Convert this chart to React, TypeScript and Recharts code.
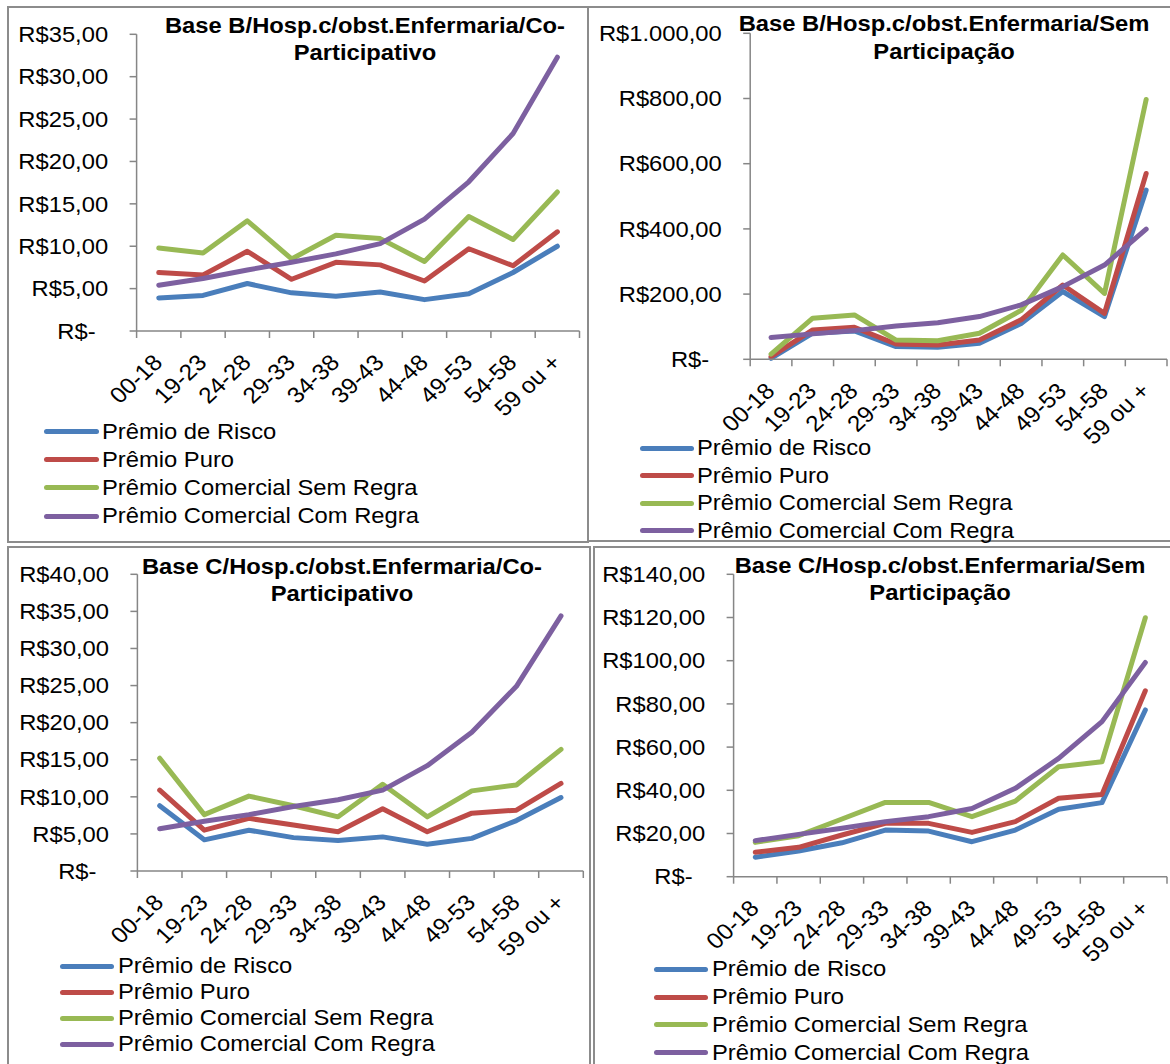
import { LineChart, Line, XAxis, YAxis } from "recharts";

const ageBands = ["00-18", "19-23", "24-28", "29-33", "34-38", "39-43", "44-48", "49-53", "54-58", "59 ou +"];
const seriesNames = ["Prêmio de Risco", "Prêmio Puro", "Prêmio Comercial Sem Regra", "Prêmio Comercial Com Regra"];
const seriesKeys = ["risco", "puro", "semRegra", "comRegra"];
const seriesColors = ["#4a7ebb", "#be4b48", "#98b954", "#7d60a0"];

// Base B - co-participativo
const bCoRisco = [3.9, 4.2, 5.6, 4.5, 4.1, 4.6, 3.7, 4.4, 6.9, 10.0];
const bCoPuro = [6.9, 6.6, 9.4, 6.1, 8.1, 7.8, 5.9, 9.7, 7.7, 11.7];
const bCoSemRegra = [9.8, 9.2, 13.0, 8.5, 11.3, 10.9, 8.2, 13.5, 10.8, 16.4];
const bCoComRegra = [5.4, 6.2, 7.2, 8.1, 9.1, 10.3, 13.2, 17.6, 23.3, 32.3];

// Base B - sem participação
const bSemRisco = [3, 80, 87, 39, 37, 49, 110, 208, 131, 519];
const bSemPuro = [8, 90, 98, 47, 44, 59, 121, 228, 141, 570];
const bSemSemRegra = [16, 126, 136, 59, 57, 80, 150, 320, 202, 797];
const bSemComRegra = [67, 78, 88, 102, 112, 131, 167, 223, 289, 399];

// Base C - co-participativo
const cCoRisco = [8.8, 4.2, 5.5, 4.5, 4.1, 4.6, 3.6, 4.4, 6.8, 9.9];
const cCoPuro = [10.9, 5.5, 7.1, 6.2, 5.3, 8.4, 5.3, 7.8, 8.2, 11.8];
const cCoSemRegra = [15.2, 7.6, 10.1, 8.8, 7.3, 11.7, 7.3, 10.8, 11.6, 16.4];
const cCoComRegra = [5.7, 6.7, 7.6, 8.7, 9.6, 10.9, 14.2, 18.7, 24.9, 34.4];

// Base C - sem participação
const cSemRisco = [9.0, 11.9, 15.7, 21.6, 21.1, 16.2, 21.6, 31.2, 34.3, 77.2];
const cSemPuro = [11.3, 13.6, 19.3, 24.7, 24.7, 20.5, 25.5, 36.3, 38.1, 86.1];
const cSemSemRegra = [15.9, 19.0, 26.7, 34.4, 34.4, 27.8, 35.0, 50.9, 53.2, 119.9];
const cSemComRegra = [16.7, 19.6, 22.4, 25.5, 27.8, 31.6, 40.9, 54.8, 71.8, 99.2];

const bCoTicks = [0, 5, 10, 15, 20, 25, 30, 35];
const bSemTicks = [0, 200, 400, 600, 800, 1000];
const cCoTicks = [0, 5, 10, 15, 20, 25, 30, 35, 40];
const cSemTicks = [0, 20, 40, 60, 80, 100, 120, 140];

// category boundaries (tick marks) and centres (labels) on a 0..10 numeric axis
const xTicks = Array.from({ length: 21 }, (_, i) => i / 2);

const FONT = "'Liberation Sans', Arial, sans-serif";
const STRETCH = 1.08;
const AXIS = "#868686";

function brl(v: number) {
  if (v === 0) return "R$-";
  const int = String(Math.round(v)).replace(/\B(?=(\d{3})+(?!\d))/g, ".");
  return `R$${int},00`;
}

function buildRows(series: number[][]) {
  return ageBands.map((band, i) => {
    const row: Record<string, number | string> = { x: i + 0.5, band };
    seriesKeys.forEach((k, s) => (row[k] = series[s][i]));
    return row;
  });
}

function XTick({ x, y, payload }: any) {
  const v = payload.value as number;
  if (Number.isInteger(v)) {
    return <line x1={x} y1={y} x2={x} y2={y + 7} stroke={AXIS} strokeWidth={1.5} />;
  }
  return (
    <g transform={`translate(${x + 5},${y + 33}) scale(${STRETCH},1) rotate(-45)`}>
      <text textAnchor="end" fontSize={22.5} fontFamily={FONT} fill="#000">
        {ageBands[Math.floor(v)]}
      </text>
    </g>
  );
}

function YTick({ x, y, payload }: any) {
  const v = payload.value as number;
  const gap = v === 0 ? 41 : 28.5;
  return (
    <g>
      <line x1={x - 7} y1={y} x2={x} y2={y} stroke={AXIS} strokeWidth={1.5} />
      <g transform={`translate(${x - gap},${y}) scale(${STRETCH},1)`}>
        <text textAnchor="end" dy="0.35em" fontSize={22} fontFamily={FONT} fill="#000">
          {brl(v)}
        </text>
      </g>
    </g>
  );
}

type Panel = {
  title: string[];
  series: number[][];
  ticks: number[];
  box: { left: number; top: number; right: number; bottom: number };
  plot: { left: number; top: number; right: number; bottom: number };
  titleX: number;
  titleY: number;
  titleGap: number;
  legend: { x0: number; x1: number; textX: number; y: number; step: number };
};

const panels: Panel[] = [
  {
    title: ["Base B/Hosp.c/obst.Enfermaria/Co-", "Participativo"],
    series: [bCoRisco, bCoPuro, bCoSemRegra, bCoComRegra],
    ticks: bCoTicks,
    box: { left: 7, top: 6, right: 589, bottom: 543 },
    plot: { left: 136.6, top: 34.3, right: 579.5, bottom: 331 },
    titleX: 365, titleY: 25, titleGap: 27,
    legend: { x0: 44, x1: 99, textX: 102, y: 431.7, step: 28.1 },
  },
  {
    title: ["Base B/Hosp.c/obst.Enfermaria/Sem", "Participação"],
    series: [bSemRisco, bSemPuro, bSemSemRegra, bSemComRegra],
    ticks: bSemTicks,
    box: { left: 587, top: 6, right: 1174, bottom: 542 },
    plot: { left: 750.2, top: 33.3, right: 1167, bottom: 359.3 },
    titleX: 944, titleY: 24, titleGap: 28,
    legend: { x0: 640, x1: 694, textX: 697, y: 448.3, step: 27.5 },
  },
  {
    title: ["Base C/Hosp.c/obst.Enfermaria/Co-", "Participativo"],
    series: [cCoRisco, cCoPuro, cCoSemRegra, cCoComRegra],
    ticks: cCoTicks,
    box: { left: 7, top: 546, right: 591, bottom: 1070 },
    plot: { left: 137.4, top: 574.3, right: 583.3, bottom: 871 },
    titleX: 342, titleY: 566.7, titleGap: 27.6,
    legend: { x0: 60, x1: 114, textX: 118, y: 966, step: 26 },
  },
  {
    title: ["Base C/Hosp.c/obst.Enfermaria/Sem", "Participação"],
    series: [cSemRisco, cSemPuro, cSemSemRegra, cSemComRegra],
    ticks: cSemTicks,
    box: { left: 593, top: 546, right: 1174, bottom: 1070 },
    plot: { left: 733.6, top: 574.3, right: 1167, bottom: 876.7 },
    titleX: 939.5, titleY: 565.7, titleGap: 27.6,
    legend: { x0: 654, x1: 708, textX: 712, y: 969.3, step: 27.8 },
  },
];

function PremiumPanel({ p }: { p: Panel }) {
  const { box, plot } = p;
  const w = box.right - box.left;
  const h = box.bottom - box.top;
  const max = p.ticks[p.ticks.length - 1];
  return (
    <>
      <div
        style={{
          position: "absolute",
          left: box.left,
          top: box.top,
          width: w,
          height: h,
          boxSizing: "border-box",
          border: "2px solid #8c8c8c",
        }}
      />
      <div style={{ position: "absolute", left: box.left, top: box.top, width: w, height: h }}>
        <LineChart
          width={w}
          height={h}
          data={buildRows(p.series)}
          margin={{ top: plot.top - box.top, right: box.right - plot.right, bottom: 0, left: 0 }}
        >
          <XAxis
            dataKey="x"
            type="number"
            domain={[0, 10]}
            ticks={xTicks}
            interval={0}
            height={box.bottom - plot.bottom}
            tickSize={0}
            tickMargin={0}
            tickLine={false}
            axisLine={{ stroke: AXIS, strokeWidth: 1.5 }}
            tick={(props: any) => <XTick {...props} />}
          />
          <YAxis
            type="number"
            domain={[0, max]}
            ticks={p.ticks}
            interval={0}
            width={plot.left - box.left}
            tickSize={0}
            tickMargin={0}
            tickLine={false}
            axisLine={{ stroke: AXIS, strokeWidth: 1.5 }}
            tick={(props: any) => <YTick {...props} />}
          />
          {seriesKeys.map((k, i) => (
            <Line
              key={k}
              dataKey={k}
              name={seriesNames[i]}
              type="linear"
              stroke={seriesColors[i]}
              strokeWidth={5}
              strokeLinecap="round"
              strokeLinejoin="round"
              dot={false}
              activeDot={false}
              isAnimationActive={false}
            />
          ))}
        </LineChart>
      </div>
      <div
        style={{
          position: "absolute",
          left: p.titleX - 400,
          top: p.titleY - p.titleGap / 2,
          width: 800,
          textAlign: "center",
          fontSize: 22,
          fontWeight: "bold",
          lineHeight: `${p.titleGap}px`,
          transform: `scaleX(${STRETCH})`,
          whiteSpace: "nowrap",
        }}
      >
        {p.title.map((t) => (
          <div key={t}>{t}</div>
        ))}
      </div>
      {seriesNames.map((name, i) => {
        const y = p.legend.y + i * p.legend.step;
        return (
          <div key={name}>
            <div
              style={{
                position: "absolute",
                left: p.legend.x0,
                top: y - 2.5,
                width: p.legend.x1 - p.legend.x0,
                height: 5,
                borderRadius: 2.5,
                background: seriesColors[i],
              }}
            />
            <div
              style={{
                position: "absolute",
                left: p.legend.textX,
                top: y - 14,
                height: 28,
                lineHeight: "28px",
                fontSize: 22,
                whiteSpace: "nowrap",
                transform: `scaleX(${STRETCH})`,
                transformOrigin: "left center",
              }}
            >
              {name}
            </div>
          </div>
        );
      })}
    </>
  );
}

export default function App() {
  return (
    <div
      style={{
        position: "absolute",
        left: 0,
        top: 0,
        width: 1170,
        height: 1064,
        overflow: "hidden",
        background: "#fff",
        fontFamily: FONT,
        color: "#000",
      }}
    >
      {panels.map((p) => (
        <PremiumPanel key={p.title[0]} p={p} />
      ))}
    </div>
  );
}
